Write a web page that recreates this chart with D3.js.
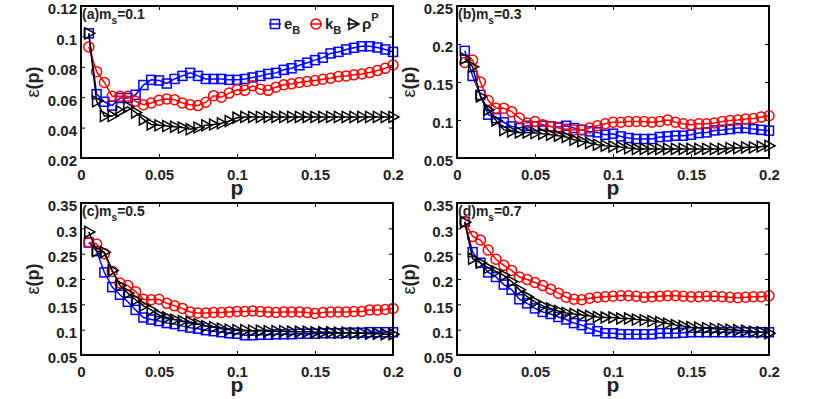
<!DOCTYPE html>
<html>
<head>
<meta charset="utf-8">
<script src="https://cdn.jsdelivr.net/npm/d3@7"></script>
<style>
  body { margin: 0; background: #fff; }
  svg { display: block; }
  text { font-family: "Liberation Sans", Arial, sans-serif; font-weight: bold; fill: #222; }
</style>
</head>
<body>
<svg id="chart" width="817" height="399"></svg>
<script>
// p values shared by every panel
var pValues = [0.005,0.01,0.015,0.02,0.025,0.03,0.035,0.04,0.045,0.05,
  0.055,0.06,0.065,0.07,0.075,0.08,0.085,0.09,0.095,0.1,
  0.105,0.11,0.115,0.12,0.125,0.13,0.135,0.14,0.145,0.15,
  0.155,0.16,0.165,0.17,0.175,0.18,0.185,0.19,0.195,0.2];

// (a) m_s = 0.1
var eB_a = [0.102,0.062,0.057,0.0545,0.0595,0.0595,0.0616,0.068,0.0714,0.071,
  0.069,0.072,0.074,0.076,0.074,0.072,0.072,0.072,0.0714,0.0714,
  0.072,0.073,0.074,0.0753,0.076,0.078,0.079,0.081,0.0827,0.0844,
  0.086,0.0888,0.0898,0.0914,0.0925,0.0935,0.0935,0.0927,0.0914,0.0898];
var kB_a = [0.0931,0.0768,0.0697,0.0606,0.0606,0.0606,0.0573,0.0551,0.0562,0.058,
  0.0588,0.0584,0.0562,0.0551,0.0545,0.0567,0.061,0.060,0.0627,0.0649,
  0.0645,0.0675,0.0653,0.0645,0.0666,0.0682,0.0688,0.0697,0.0703,0.071,
  0.0718,0.0725,0.0736,0.074,0.0747,0.0753,0.0762,0.0775,0.079,0.0812];
var rhoP_a = [0.102,0.0573,0.0476,0.0476,0.0508,0.0536,0.050,0.0454,0.0421,0.0415,
  0.041,0.0406,0.040,0.0389,0.040,0.0415,0.042,0.0428,0.0443,0.0465,
  0.047,0.047,0.047,0.047,0.047,0.047,0.047,0.047,0.047,0.047,
  0.047,0.047,0.047,0.047,0.047,0.047,0.047,0.047,0.047,0.047];

// (b) m_s = 0.3
var eB_b = [0.191,0.158,0.133,0.107,0.1025,0.097,0.0916,0.0894,0.0924,0.0916,
  0.0924,0.0916,0.0907,0.0924,0.0894,0.087,0.085,0.0837,0.0806,0.082,
  0.0784,0.0763,0.075,0.075,0.075,0.0776,0.0784,0.0793,0.0793,0.0806,
  0.0828,0.0837,0.0863,0.087,0.088,0.0894,0.0894,0.088,0.087,0.086];
var kB_b = [0.1756,0.179,0.150,0.1257,0.1156,0.1156,0.111,0.1025,0.096,0.098,
  0.0937,0.0916,0.0894,0.088,0.087,0.087,0.0894,0.0924,0.095,0.097,
  0.097,0.098,0.098,0.098,0.097,0.098,0.100,0.097,0.095,0.0937,
  0.095,0.095,0.096,0.098,0.0995,0.100,0.1012,0.102,0.1038,0.1056];
var rhoP_b = [0.181,0.170,0.131,0.1135,0.0995,0.087,0.085,0.0837,0.0837,0.0828,
  0.082,0.0806,0.0793,0.0776,0.074,0.0719,0.0697,0.0675,0.0662,0.0653,
  0.0644,0.063,0.0618,0.0618,0.062,0.062,0.062,0.062,0.062,0.062,
  0.062,0.062,0.062,0.062,0.063,0.063,0.064,0.064,0.065,0.066];

// (c) m_s = 0.5
var eB_c = [0.272,0.255,0.213,0.184,0.169,0.155,0.139,0.124,0.12,0.117,
  0.113,0.111,0.107,0.104,0.102,0.099,0.097,0.095,0.093,0.092,
  0.089,0.089,0.09,0.09,0.091,0.091,0.091,0.092,0.092,0.092,
  0.093,0.093,0.093,0.094,0.094,0.094,0.095,0.095,0.095,0.095];
var kB_c = [0.272,0.269,0.25,0.215,0.192,0.187,0.175,0.16,0.159,0.16,
  0.152,0.147,0.142,0.135,0.133,0.133,0.134,0.134,0.135,0.136,
  0.136,0.137,0.136,0.135,0.134,0.135,0.135,0.135,0.134,0.132,
  0.134,0.135,0.135,0.135,0.136,0.136,0.139,0.139,0.14,0.142];
var rhoP_c = [0.293,0.255,0.253,0.217,0.187,0.172,0.159,0.147,0.139,0.129,
  0.124,0.12,0.117,0.115,0.111,0.107,0.105,0.102,0.1,0.099,
  0.099,0.098,0.098,0.097,0.097,0.097,0.096,0.096,0.096,0.095,
  0.095,0.095,0.094,0.094,0.093,0.093,0.092,0.092,0.091,0.091];

// (d) m_s = 0.7
var eB_d = [0.313,0.253,0.232,0.213,0.204,0.189,0.179,0.16,0.152,0.142,
  0.135,0.131,0.125,0.12,0.113,0.109,0.102,0.097,0.093,0.093,
  0.091,0.091,0.091,0.091,0.091,0.093,0.093,0.093,0.094,0.095,
  0.095,0.095,0.095,0.095,0.095,0.095,0.095,0.095,0.095,0.095];
var kB_d = [0.313,0.284,0.277,0.257,0.239,0.227,0.217,0.204,0.199,0.193,
  0.187,0.18,0.172,0.164,0.16,0.159,0.162,0.164,0.165,0.166,
  0.167,0.167,0.166,0.164,0.165,0.166,0.167,0.167,0.166,0.165,
  0.165,0.166,0.166,0.165,0.164,0.163,0.164,0.165,0.165,0.167];
var rhoP_d = [0.312,0.24,0.232,0.222,0.215,0.207,0.195,0.179,0.165,0.155,
  0.147,0.142,0.137,0.133,0.131,0.129,0.127,0.125,0.124,0.124,
  0.122,0.122,0.12,0.119,0.117,0.115,0.112,0.109,0.107,0.105,
  0.104,0.103,0.102,0.101,0.1,0.099,0.098,0.096,0.095,0.093];

var xTicks = [0, 0.05, 0.1, 0.15, 0.2];
var panels = [
  {label: "(a)", ms: "0.1", e: eB_a, k: kB_a, r: rhoP_a, yDomain: [0.02, 0.12], yTicks: [0.02,0.04,0.06,0.08,0.1,0.12], x0: 81, y0: 6, legend: true},
  {label: "(b)", ms: "0.3", e: eB_b, k: kB_b, r: rhoP_b, yDomain: [0.05, 0.25], yTicks: [0.05,0.1,0.15,0.2,0.25], x0: 457, y0: 6},
  {label: "(c)", ms: "0.5", e: eB_c, k: kB_c, r: rhoP_c, yDomain: [0.05, 0.35], yTicks: [0.05,0.1,0.15,0.2,0.25,0.3,0.35], x0: 81, y0: 203},
  {label: "(d)", ms: "0.7", e: eB_d, k: kB_d, r: rhoP_d, yDomain: [0.05, 0.35], yTicks: [0.05,0.1,0.15,0.2,0.25,0.3,0.35], x0: 457, y0: 203}
];

var W = 312, H = 152;
var svg = d3.select("#chart");

// marker drawing helpers
function drawSquare(g, x, y, color) {
  g.append("rect").attr("x", x - 4.5).attr("y", y - 4.5).attr("width", 9).attr("height", 9)
    .attr("fill", "none").attr("stroke", color).attr("stroke-width", 1.5);
}
function drawCircle(g, x, y, color) {
  g.append("circle").attr("cx", x).attr("cy", y).attr("r", 5)
    .attr("fill", "none").attr("stroke", color).attr("stroke-width", 1.5);
}
function drawTriangle(g, x, y, color) {
  g.append("path").attr("d", "M" + (x - 4) + "," + (y - 5.5) + "L" + (x + 6) + "," + y + "L" + (x - 4) + "," + (y + 5.5) + "Z")
    .attr("fill", "none").attr("stroke", color).attr("stroke-width", 1.5);
}

panels.forEach(function(pn) {
  var x = d3.scaleLinear().domain([0, 0.2]).range([0, W]);
  var y = d3.scaleLinear().domain(pn.yDomain).range([H, 0]);
  var g = svg.append("g").attr("transform", "translate(" + pn.x0 + "," + pn.y0 + ")");

  // axes with inward ticks
  var xa = d3.axisBottom(x).tickValues(xTicks).tickSize(-4).tickPadding(13).tickFormat(d3.format("~g"));
  var ya = d3.axisLeft(y).tickValues(pn.yTicks).tickSize(-4).tickPadding(4).tickFormat(d3.format("~g"));
  var gx = g.append("g").attr("transform", "translate(0," + H + ")").call(xa);
  var gy = g.append("g").call(ya);
  g.append("g").call(d3.axisTop(x).tickValues(xTicks).tickSize(-4).tickFormat(""));
  g.append("g").attr("transform", "translate(" + W + ",0)").call(d3.axisRight(y).tickValues(pn.yTicks).tickSize(-4).tickFormat(""));
  g.selectAll(".domain").remove();
  g.selectAll(".tick line").attr("stroke", "#000").attr("stroke-width", 1);
  [gx, gy].forEach(function(a) {
    a.selectAll("text").attr("font-size", 15).attr("fill", "#222")
      .style("font-family", "'Liberation Sans', Arial, sans-serif").style("font-weight", "bold");
  });
  gy.selectAll("text").attr("dy", "0.52em");
  gx.selectAll("text").attr("dy", "0.6em");

  var series = [
    {vals: pn.e, color: "#0000ff", mk: drawSquare},
    {vals: pn.k, color: "#ff0000", mk: drawCircle},
    {vals: pn.r, color: "#000000", mk: drawTriangle}
  ];
  var line = d3.line().x(function(d) { return x(d[0]); }).y(function(d) { return y(d[1]); });
  series.forEach(function(s) {
    var pts = d3.zip(pValues, s.vals);
    g.append("path").datum(pts).attr("d", line).attr("fill", "none")
      .attr("stroke", s.color).attr("stroke-width", 1.5);
    var mg = g.append("g");
    pts.forEach(function(d) { s.mk(mg, x(d[0]), y(d[1]), s.color); });
  });

  // frame
  g.append("rect").attr("width", W).attr("height", H).attr("fill", "none")
    .attr("stroke", "#000").attr("stroke-width", 2);

  // panel tag
  var t = g.append("text").attr("x", 1).attr("y", 13).attr("font-size", 14);
  t.append("tspan").text(pn.label + "m");
  t.append("tspan").attr("font-size", 10).attr("dy", 5).text("s");
  t.append("tspan").attr("dy", -5).text("=" + pn.ms);

  // axis titles
  g.append("text").attr("x", W / 2).attr("y", H + 37).attr("text-anchor", "middle")
    .attr("font-size", 21).text("p");
  var yl = g.append("text").attr("transform", "translate(-42," + (H / 2) + ") rotate(-90)")
    .attr("text-anchor", "middle").attr("font-size", 18);
  yl.append("tspan").style("font-weight", "normal").text("\u03b5");
  yl.append("tspan").text("(p)");

  if (pn.legend) {
    var lg = g.append("g").attr("transform", "translate(188,18)");
    var items = [
      {x: 0, color: "#0000ff", mk: drawSquare, base: "e", sub: "B", sup: null},
      {x: 41, color: "#ff0000", mk: drawCircle, base: "k", sub: "B", sup: null},
      {x: 78, color: "#000000", mk: drawTriangle, base: "\u03c1", sub: null, sup: "P"}
    ];
    items.forEach(function(it) {
      lg.append("line").attr("x1", it.x).attr("x2", it.x + 12).attr("y1", 0).attr("y2", 0)
        .attr("stroke", it.color).attr("stroke-width", 1.5);
      it.mk(lg, it.x + 6, 0, it.color);
      var tt = lg.append("text").attr("x", it.x + 15).attr("y", 5).attr("font-size", 15);
      tt.append("tspan").text(it.base);
      if (it.sub) tt.append("tspan").attr("font-size", 11).attr("dy", 5).text(it.sub);
      if (it.sup) tt.append("tspan").attr("font-size", 11).attr("dy", -8).text(it.sup);
    });
  }
});
</script>
</body>
</html>
